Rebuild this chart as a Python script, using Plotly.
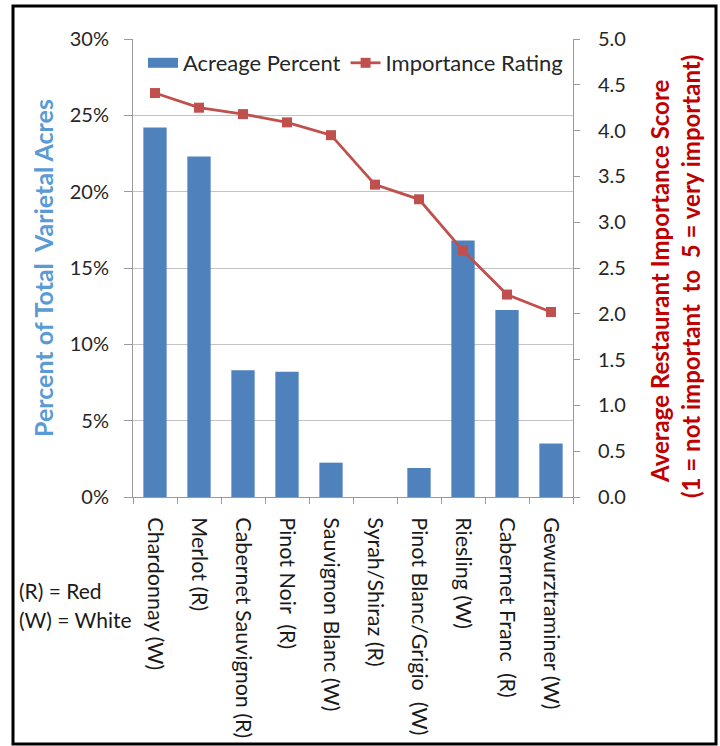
import plotly.graph_objects as go

categories = ["Chardonnay (W)", "Merlot (R)", "Cabernet Sauvignon (R)", "Pinot Noir  (R)",
              "Sauvignon Blanc (W)", "Syrah/Shiraz (R)", "Pinot Blanc/Grigio  (W)",
              "Riesling (W)", "Cabernet Franc  (R)", "Gewurztraminer (W)"]
acreage_pct = [0.242, 0.223, 0.083, 0.082, 0.0225, 0.0, 0.019, 0.168, 0.1225, 0.035]
importance = [4.41, 4.25, 4.18, 4.09, 3.95, 3.41, 3.25, 2.69, 2.21, 2.02]
left_ticks = [0, 0.05, 0.10, 0.15, 0.20, 0.25, 0.30]
right_ticks = [0, 0.5, 1.0, 1.5, 2.0, 2.5, 3.0, 3.5, 4.0, 4.5, 5.0]

FONT = "Lato"
BLUE = "#4F81BD"
RED = "#C0504D"

fig = go.Figure()
fig.add_trace(go.Bar(x=categories, y=acreage_pct, name="Acreage Percent", showlegend=False,
                     marker=dict(color=BLUE, line=dict(width=0)), width=0.53, yaxis="y"))
# legend-only entry giving the wide rectangle swatch
fig.add_trace(go.Scatter(x=[None], y=[None], name="Acreage Percent", mode="lines",
                         line=dict(color=BLUE, width=14), yaxis="y"))
fig.add_trace(go.Scatter(x=categories, y=importance, name="Importance Rating", yaxis="y2",
                         mode="lines+markers",
                         line=dict(color=RED, width=2.8),
                         marker=dict(symbol="square", size=10, color=RED)))

W, H = 720, 746
L, R, T, B = 133, 147, 39, 249
pw, ph = W - L - R, H - T - B

def px(x):
    return (x - L) / pw

def py(y):
    return (H - B - y) / ph

fig.update_layout(
    width=W, height=H,
    margin=dict(l=L, r=R, t=T, b=B, pad=0, autoexpand=False),
    paper_bgcolor="white", plot_bgcolor="white",
    font=dict(family=FONT, size=15, color="#262626"),
    showlegend=True,
    legend=dict(orientation="h", x=px(143), y=py(42), xanchor="left", yanchor="top",
                bgcolor="rgba(0,0,0,0)", font=dict(size=22, color="#262626"),
                tracegroupgap=0, traceorder="normal"),
    xaxis=dict(tickangle=90, showline=True, linecolor="#9A9A9A", linewidth=1,
               ticks="outside", tickson="boundaries", ticklen=6, tickcolor="#9A9A9A",
               showgrid=False, tickfont=dict(size=21.5, color="#1a1a1a"), range=[-0.5, 9.5],
               ticklabelstandoff=15, automargin=False),
    yaxis=dict(range=[0, 0.30], tickvals=left_ticks, tickformat=".0%",
               showgrid=True, gridcolor="#C4C4C4", gridwidth=1,
               showline=True, linecolor="#9A9A9A", ticks="outside", ticklen=8,
               tickcolor="#9A9A9A", tickfont=dict(size=20, color="#262626"),
               zeroline=False, ticklabelstandoff=11, automargin=False),
    yaxis2=dict(range=[0, 5.0], tickvals=right_ticks, tickformat=".1f", overlaying="y",
                side="right", showgrid=False, showline=True, linecolor="#9A9A9A",
                ticks="outside", ticklen=6, tickcolor="#9A9A9A",
                tickfont=dict(size=20, color="#262626"), zeroline=False, ticklabelstandoff=14,
                automargin=False),
)

fig.add_annotation(x=px(43), y=py(268), xref="paper", yref="paper", showarrow=False,
                   xanchor="center", yanchor="middle",
                   text="<b>Percent of Total  Varietal Acres</b>", textangle=-90,
                   font=dict(size=25, color="#5B9BD5"))
fig.add_annotation(x=px(659), y=py(281), xref="paper", yref="paper", showarrow=False,
                   xanchor="center", yanchor="middle",
                   text="<b>Average Restaurant Importance Score</b>", textangle=-90,
                   font=dict(size=24, color="#C00000"))
fig.add_annotation(x=px(690), y=py(277), xref="paper", yref="paper", showarrow=False,
                   xanchor="center", yanchor="middle",
                   text="<b>(1 = not important  to  5 = very important)</b>", textangle=-90,
                   font=dict(size=24, color="#C00000"))
fig.add_annotation(x=px(17), y=py(590), xref="paper", yref="paper", showarrow=False,
                   xanchor="left", yanchor="middle", text="(R) = Red",
                   font=dict(size=21, color="#1a1a1a"))
fig.add_annotation(x=px(17), y=py(619), xref="paper", yref="paper", showarrow=False,
                   xanchor="left", yanchor="middle", text="(W) = White",
                   font=dict(size=21, color="#1a1a1a"))

fig.add_shape(type="rect", xref="paper", yref="paper",
              x0=px(13), x1=px(716), y0=py(744), y1=py(6),
              line=dict(color="black", width=3), fillcolor="rgba(0,0,0,0)")

fig.write_html("out.html")
